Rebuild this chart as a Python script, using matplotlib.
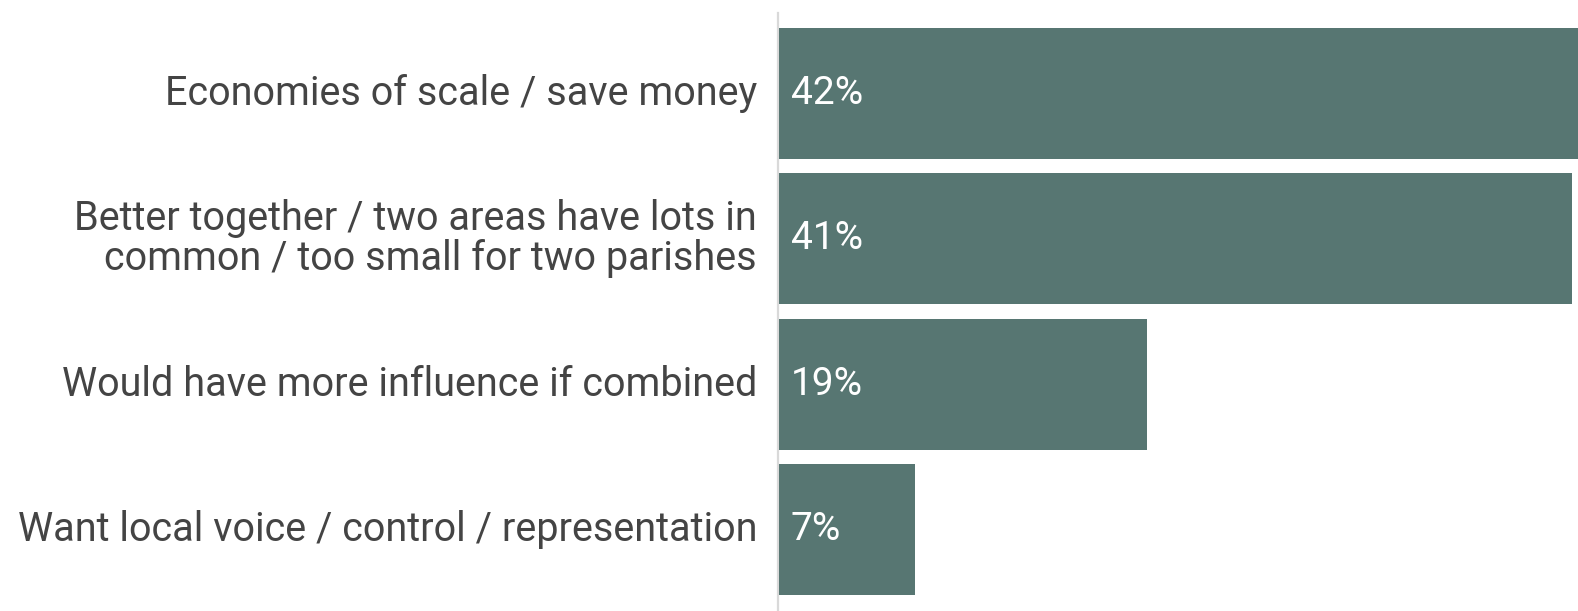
import matplotlib
matplotlib.use("Agg")
import matplotlib.pyplot as plt
from matplotlib import font_manager as fm

categories = [
    "Economies of scale / save money",
    "Better together / two areas have lots in\ncommon / too small for two parishes",
    "Would have more influence if combined",
    "Want local voice / control / representation",
]
values = [41.7, 41.4, 19.2, 7.1]
value_labels = ["42%", "41%", "19%", "7%"]


def find_font(name):
    for f in fm.findSystemFonts():
        if f.split("/")[-1].lower() == name.lower():
            return f
    return None


roboto = find_font("Roboto-Regular.ttf")
W, H = 1578, 611


def fp(size):
    if roboto:
        return fm.FontProperties(fname=roboto, size=size)
    return fm.FontProperties(family="Roboto", size=size)


fig = plt.figure(figsize=(W / 100, H / 100), dpi=100)
ax = fig.add_axes([779 / W, 0, 799 / W, (H - 13) / H])

bar_color = "#577672"
ypos = list(range(len(categories)))
ax.barh(ypos, values, height=0.9, color=bar_color, zorder=3)

ax.set_xlim(0, values[0])
ax.set_ylim(3.561, -0.554)

for y, lab in zip(ypos, value_labels):
    ax.annotate(lab, xy=(0, y), xycoords=ax.get_yaxis_transform(),
                xytext=(8.3, 0), textcoords="offset points",
                color="white", fontproperties=fp(28),
                va="center", ha="left", zorder=4)

for y, cat in zip(ypos, categories):
    ax.annotate(cat, xy=(0, y), xycoords=ax.get_yaxis_transform(),
                xytext=(-15.8, 0), textcoords="offset points",
                color="#444444", fontproperties=fp(28.5),
                va="center", ha="right", multialignment="right",
                linespacing=1.03, annotation_clip=False)

ax.set_yticks([])
ax.set_xticks([])

for s in ["top", "right", "bottom"]:
    ax.spines[s].set_visible(False)
ax.spines["left"].set_color("#d9d9d9")
ax.spines["left"].set_linewidth(1.6)
ax.spines["left"].set_position(("outward", 1))

fig.savefig("out.png", dpi=100)
